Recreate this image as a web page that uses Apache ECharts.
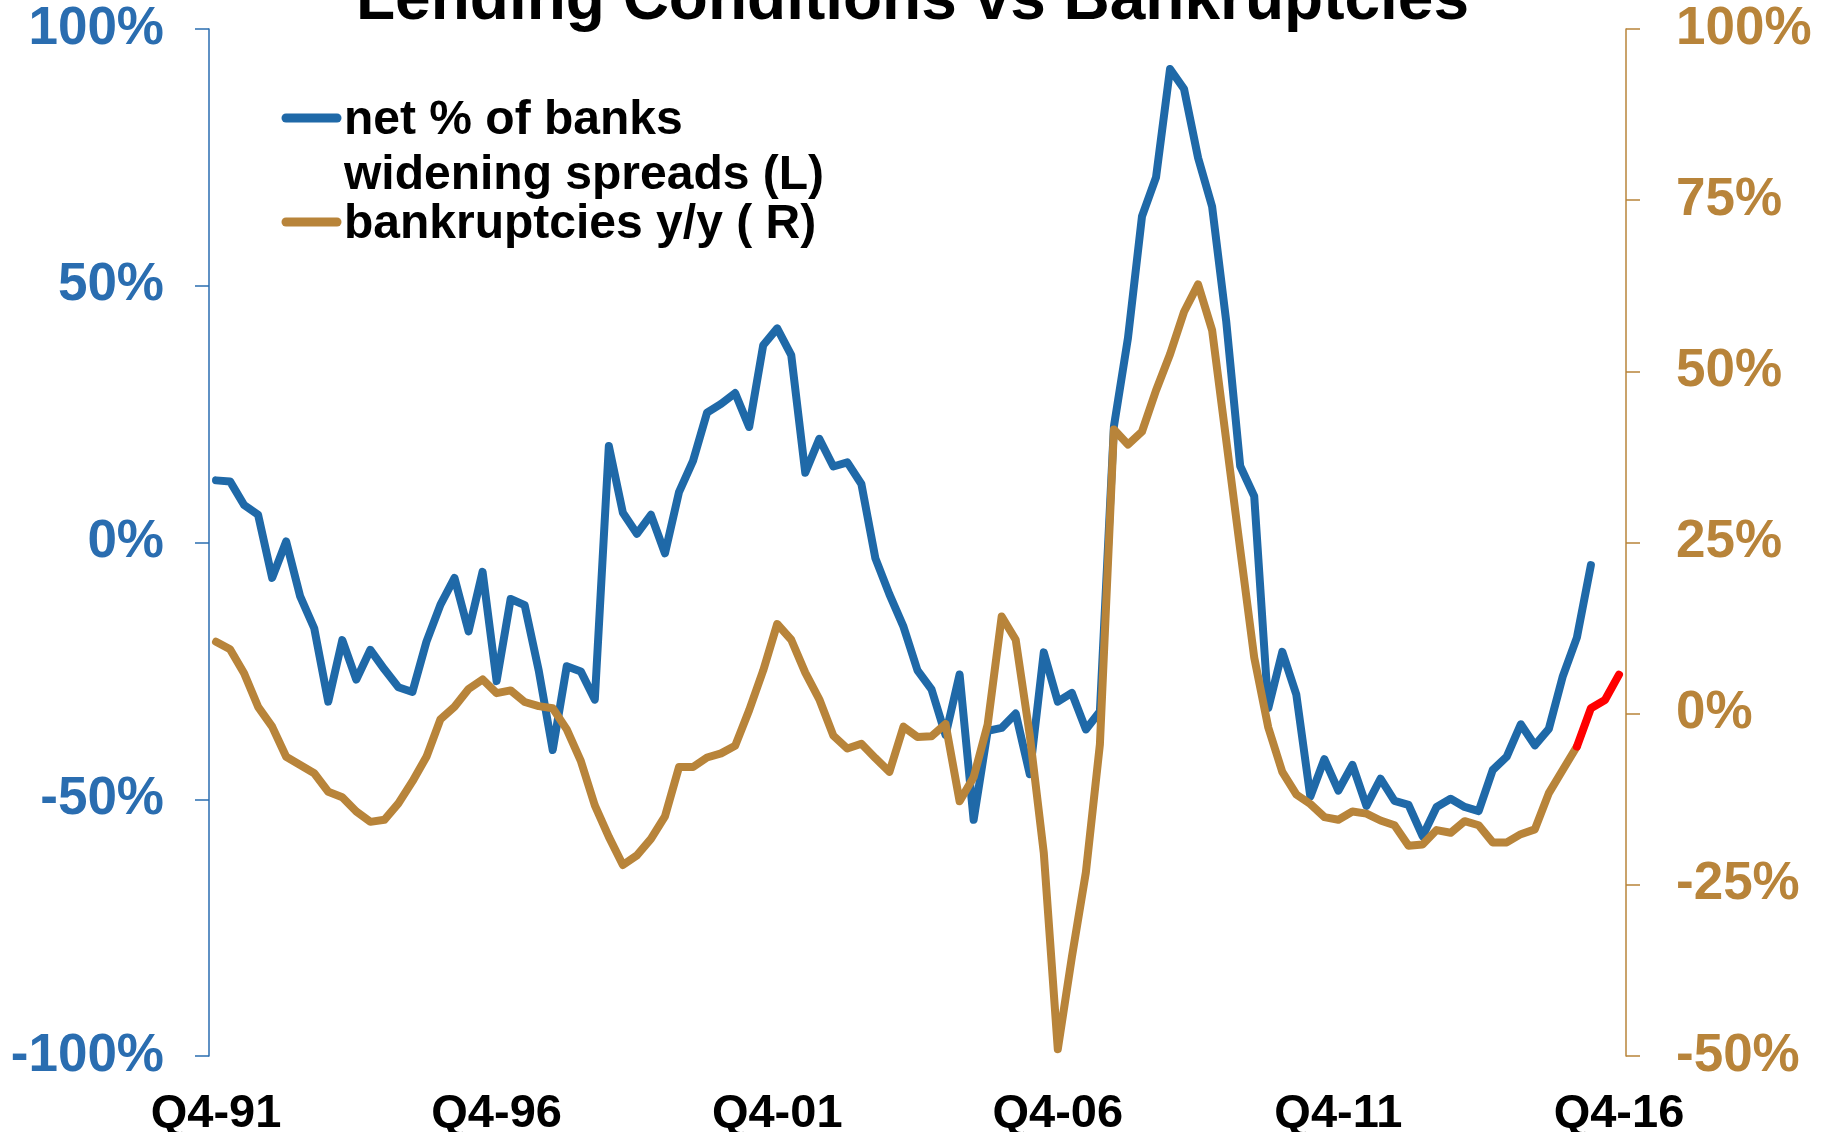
<!DOCTYPE html>
<html>
<head>
<meta charset="utf-8">
<title>Lending Conditions vs Bankruptcies</title>
<script src="https://cdn.jsdelivr.net/npm/echarts@6/dist/echarts.min.js"></script>
<style>
  html, body { margin: 0; padding: 0; background: #ffffff; }
  #chart { width: 1825px; height: 1132px; }
</style>
</head>
<body>
<div id="chart"></div>
<script>
// Quarterly categories, Q4-91 through Q4-16
const firstYear = 1991;
const firstQuarter = 4;
const quarterCount = 101;
const quarters = [];
for (let k = 0; k < quarterCount; k++) {
  const q = ((firstQuarter - 1 + k) % 4) + 1;
  const y = firstYear + Math.floor((firstQuarter - 1 + k) / 4);
  quarters.push('Q' + q + '-' + String(y % 100).padStart(2, '0'));
}

// Net % of banks widening loan spreads (left axis), Q4-91 .. Q2-16
const spreadsNet = [
  12.1, 11.9, 7.3, 5.4, -6.9, 0.2, -10.5, -16.7, -31.0, -19.0,
  -26.7, -20.9, -24.7, -28.2, -29.1, -19.3, -12.1, -6.9, -17.3, -5.7,
  -27.0, -11.0, -12.2, -24.9, -40.4, -24.1, -25.1, -30.6, 18.8, 5.8,
  1.7, 5.4, -2.1, 9.8, 15.9, 25.3, 27.0, 29.1, 22.5, 38.4,
  41.7, 36.5, 13.6, 20.2, 14.8, 15.6, 11.4, -3.1, -10.1, -16.4,
  -24.9, -28.6, -37.5, -25.7, -54.0, -36.7, -36.1, -33.3, -45.1, -21.4,
  -31.0, -29.3, -36.4, -32.9, 22.6, 39.8, 63.5, 71.1, 92.2, 88.3,
  74.9, 65.4, 43.2, 14.9, 9.0, -32.3, -21.3, -29.6, -49.5, -42.2,
  -48.3, -43.3, -51.3, -46.0, -50.3, -51.1, -57.2, -51.5, -49.9, -51.5,
  -52.3, -44.3, -41.7, -35.4, -39.5, -36.3, -26.0, -18.5, -4.4
];

// Business bankruptcies, y/y % change (right axis), Q4-91 .. Q4-16
const bankruptciesYoY = [
  10.5, 9.4, 5.9, 1.0, -1.9, -6.3, -7.5, -8.7, -11.4, -12.2,
  -14.3, -15.8, -15.5, -13.1, -9.9, -6.3, -0.8, 1.0, 3.6, 5.0,
  3.0, 3.4, 1.7, 1.1, 0.8, -2.3, -6.9, -13.4, -18.0, -22.1,
  -20.7, -18.3, -15.0, -7.8, -7.8, -6.4, -5.8, -4.7, 0.5, 6.3,
  13.1, 10.8, 6.0, 2.1, -3.2, -5.1, -4.4, -6.5, -8.5, -1.9,
  -3.4, -3.3, -1.5, -12.8, -9.3, -1.6, 14.2, 10.8, -3.1, -20.3,
  -49.0, -35.6, -23.2, -4.5, 41.5, 39.3, 41.2, 47.2, 52.5, 58.7,
  62.7, 56.0, 40.0, 24.0, 8.2, -2.0, -8.5, -11.8, -13.2, -15.1,
  -15.5, -14.3, -14.6, -15.6, -16.3, -19.3, -19.1, -17.0, -17.4, -15.7,
  -16.3, -18.8, -18.8, -17.6, -16.9, -11.6, -8.2, -4.8, 0.8, 2.0,
  5.7
];

// The latest quarters of the bankruptcy series are drawn in red
const recentStartIndex = 97;

// Axis tick settings
const leftTicks = { min: -100, max: 100, interval: 50 };
const rightTicks = { min: -50, max: 100, interval: 25 };
const xLabelEvery = 20;

const BLUE = '#1F69A8';
const BLUE_TEXT = '#2A6DB0';
const BROWN = '#B8843A';
const RED = '#FF0000';
const FONT = '"Liberation Sans", Arial, Helvetica, sans-serif';
const LINE_W = 8;

const historical = bankruptciesYoY.map((v, i) => (i <= recentStartIndex ? v : null));
const recent = bankruptciesYoY.map((v, i) => (i >= recentStartIndex ? v : null));

const chart = echarts.init(document.getElementById('chart'), null, { renderer: 'canvas' });

chart.setOption({
  animation: false,
  backgroundColor: '#ffffff',
  title: {
    text: 'Lending Conditions vs Bankruptcies',
    left: 'center',
    top: -36,
    textStyle: { fontFamily: FONT, fontWeight: 'bold', fontSize: 64, color: '#000000' }
  },
  grid: {
    left: 209, right: 199, top: 29, bottom: 76,
    containLabel: false,
    outerBoundsMode: 'none'
  },
  xAxis: {
    type: 'category',
    data: quarters,
    boundaryGap: true,
    axisLine: { show: false },
    axisTick: { show: false },
    splitLine: { show: false },
    axisLabel: {
      interval: (index) => index % xLabelEvery === 0,
      margin: 35,
      fontFamily: FONT,
      fontWeight: 'bold',
      fontSize: 47,
      color: '#000000'
    }
  },
  yAxis: [
    {
      type: 'value',
      position: 'left',
      min: leftTicks.min,
      max: leftTicks.max,
      interval: leftTicks.interval,
      splitLine: { show: false },
      axisLine: { show: true, lineStyle: { color: BLUE_TEXT, width: 1.5 } },
      axisTick: { show: true, length: 14, lineStyle: { color: BLUE_TEXT, width: 1.5 } },
      axisLabel: {
        formatter: '{value}%',
        margin: 45,
        padding: [18, 0, 0, 0],
        fontFamily: FONT,
        fontWeight: 'bold',
        fontSize: 53,
        color: BLUE_TEXT
      }
    },
    {
      type: 'value',
      position: 'right',
      min: rightTicks.min,
      max: rightTicks.max,
      interval: rightTicks.interval,
      splitLine: { show: false },
      axisLine: { show: true, lineStyle: { color: BROWN, width: 1.5 } },
      axisTick: { show: true, length: 14, lineStyle: { color: BROWN, width: 1.5 } },
      axisLabel: {
        formatter: '{value}%',
        margin: 50,
        padding: [19, 0, 0, 0],
        fontFamily: FONT,
        fontWeight: 'bold',
        fontSize: 53,
        color: BROWN
      }
    }
  ],
  series: [
    {
      name: 'net % of banks widening spreads (L)',
      type: 'line',
      yAxisIndex: 0,
      data: spreadsNet,
      showSymbol: false,
      symbol: 'none',
      lineStyle: { color: BLUE, width: LINE_W, cap: 'round', join: 'round' },
      z: 2
    },
    {
      name: 'bankruptcies y/y ( R)',
      type: 'line',
      yAxisIndex: 1,
      data: historical,
      showSymbol: false,
      symbol: 'none',
      lineStyle: { color: BROWN, width: LINE_W, cap: 'round', join: 'round' },
      z: 3
    },
    {
      name: 'bankruptcies y/y ( R), latest',
      type: 'line',
      yAxisIndex: 1,
      data: recent,
      showSymbol: false,
      symbol: 'none',
      lineStyle: { color: RED, width: LINE_W, cap: 'round', join: 'round' },
      z: 4
    }
  ],
  graphic: [
    {
      type: 'line',
      shape: { x1: 286, y1: 118, x2: 337, y2: 118 },
      style: { stroke: BLUE, lineWidth: 9, lineCap: 'round' }
    },
    {
      type: 'text',
      x: 344,
      y: 93,
      style: {
        text: 'net % of banks\nwidening spreads (L)',
        font: 'bold 48px ' + FONT,
        lineHeight: 55,
        fill: '#000000',
        align: 'left',
        verticalAlign: 'top'
      }
    },
    {
      type: 'line',
      shape: { x1: 286, y1: 222, x2: 337, y2: 222 },
      style: { stroke: BROWN, lineWidth: 9, lineCap: 'round' }
    },
    {
      type: 'text',
      x: 344,
      y: 197,
      style: {
        text: 'bankruptcies y/y ( R)',
        font: 'bold 48px ' + FONT,
        lineHeight: 55,
        fill: '#000000',
        align: 'left',
        verticalAlign: 'top'
      }
    }
  ]
});
</script>
</body>
</html>
